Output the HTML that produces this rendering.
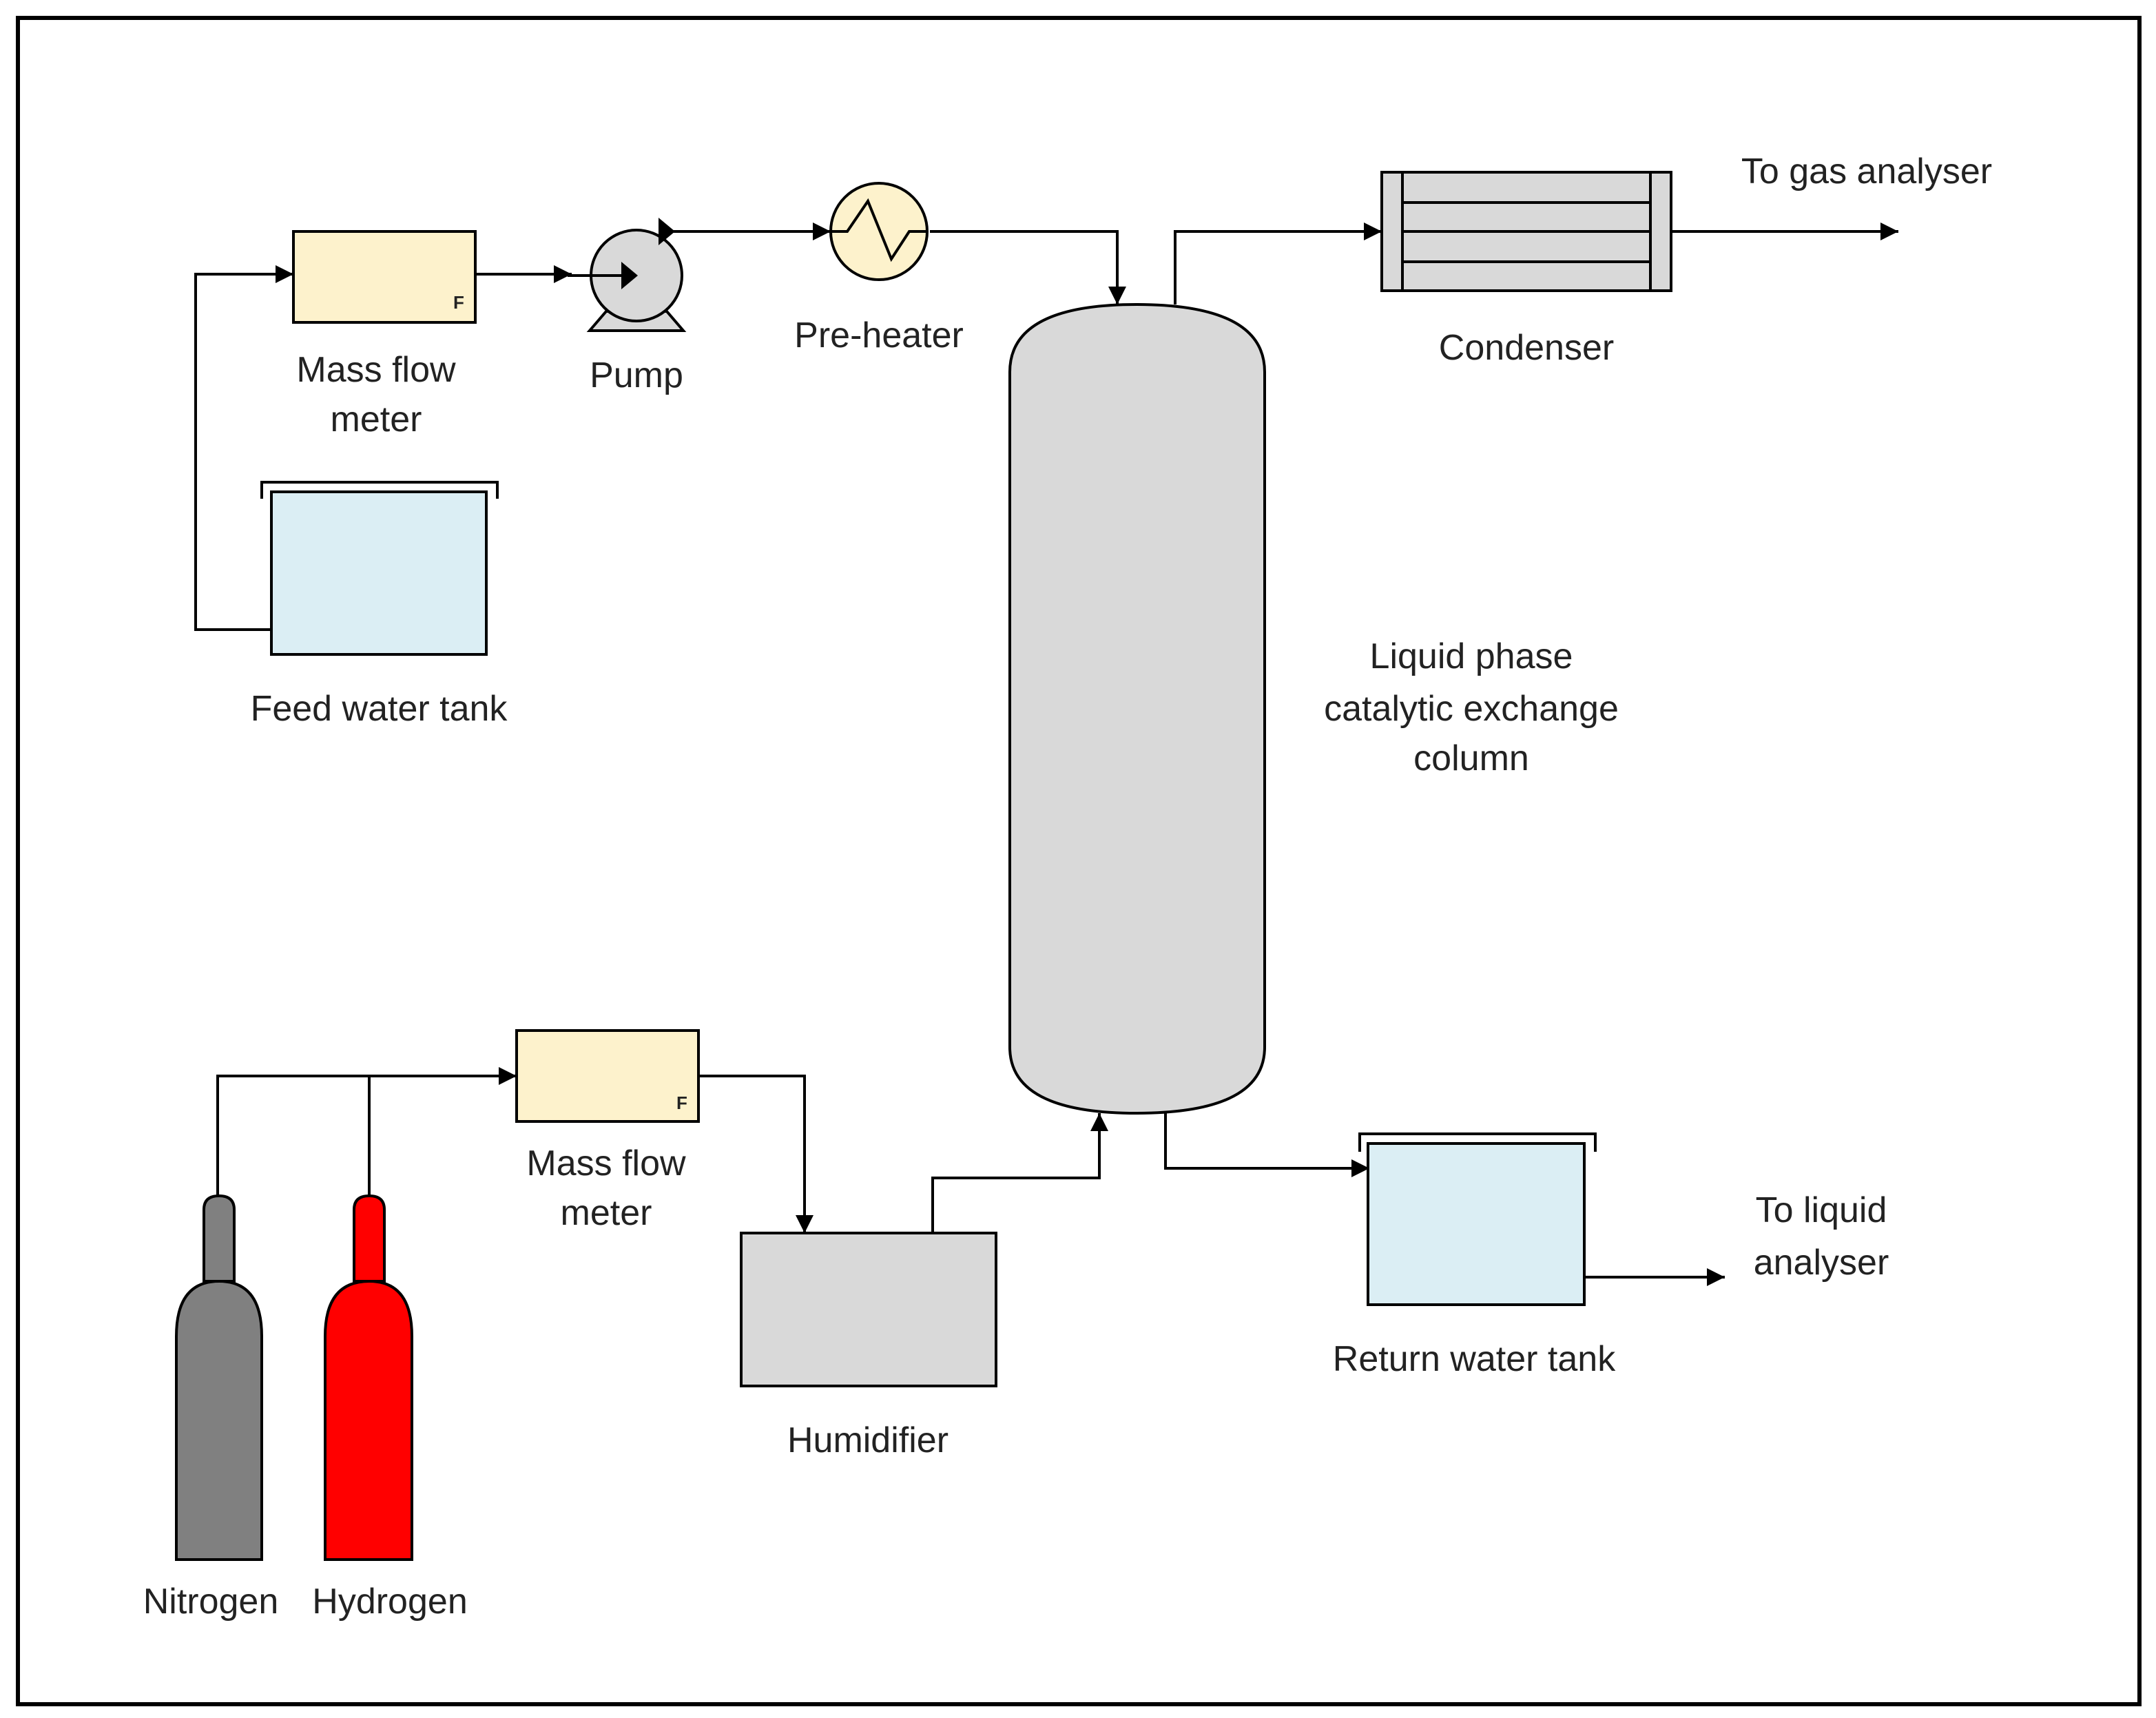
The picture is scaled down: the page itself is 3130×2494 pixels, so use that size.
<!DOCTYPE html>
<html><head><meta charset="utf-8"><style>html,body{margin:0;padding:0;background:#fff}svg{display:block}</style></head>
<body>
<svg width="3130" height="2494" viewBox="0 0 1565 1247" xmlns="http://www.w3.org/2000/svg" font-family="Liberation Sans, sans-serif" font-size="26" fill="#222">
<defs>
<marker id="b" viewBox="0 0 10 10" refX="10" refY="5" markerWidth="13" markerHeight="13" orient="auto" markerUnits="userSpaceOnUse"><path d="M0,0L10,5L0,10z" fill="#000"/></marker>
</defs>
<rect x="13" y="13" width="1540" height="1224" fill="#fff" stroke="#000" stroke-width="3"/>
<g stroke="#000" stroke-width="2" fill="none">
<polyline points="197,457 142,457 142,199 213,199" marker-end="url(#b)"/>
<line x1="345" y1="199" x2="415" y2="199" marker-end="url(#b)"/>
<polyline points="480,168 603,168" marker-end="url(#b)"/>
<polyline points="675,168 811,168 811,221" marker-end="url(#b)"/>
<polyline points="853,221 853,168 1003,168" marker-end="url(#b)"/>
<line x1="1213" y1="168" x2="1378" y2="168" marker-end="url(#b)"/>
<polyline points="158,870 158,781 375,781" marker-end="url(#b)"/>
<line x1="268" y1="870" x2="268" y2="781"/>
<polyline points="507,781 584,781 584,895" marker-end="url(#b)"/>
<polyline points="677,895 677,855 798,855 798,808" marker-end="url(#b)"/>
<polyline points="846,808 846,848 994,848" marker-end="url(#b)"/>
<line x1="1150" y1="927" x2="1252" y2="927" marker-end="url(#b)"/>
</g>
<rect x="213" y="168" width="132" height="66" fill="#fdf2cc" stroke="#000" stroke-width="2"/>
<text x="329" y="224" font-size="13" font-weight="bold">F</text>
<path d="M428,240 L440,226 L484,226 L496,240 Z" fill="#d9d9d9" stroke="#000" stroke-width="2"/>
<ellipse cx="462" cy="200" rx="33" ry="33" fill="#d9d9d9" stroke="#000" stroke-width="2"/>
<line x1="412" y1="200" x2="455" y2="200" stroke="#000" stroke-width="2"/>
<path d="M451,190 L463,200 L451,210 Z" fill="#000"/>
<path d="M478,158 L490,168 L478,178 Z" fill="#000"/>
<circle cx="638" cy="168" r="35" fill="#fdf2cc" stroke="#000" stroke-width="2"/>
<polyline points="603,168 615,168 630,146 647,188 660,168 673,168" fill="none" stroke="#000" stroke-width="2"/>
<path d="M733,270 Q733,221 825,221 Q918,221 918,270 L918,760 Q918,808 825,808 Q733,808 733,760 Z" fill="#d9d9d9" stroke="#000" stroke-width="2"/>
<rect x="1003" y="125" width="210" height="86" fill="#d9d9d9" stroke="#000" stroke-width="2"/>
<line x1="1018" y1="125" x2="1018" y2="211" stroke="#000" stroke-width="2"/>
<line x1="1198" y1="125" x2="1198" y2="211" stroke="#000" stroke-width="2"/>
<g stroke="#000" stroke-width="2"><line x1="1018" y1="147" x2="1198" y2="147"/><line x1="1018" y1="168" x2="1198" y2="168"/><line x1="1018" y1="190" x2="1198" y2="190"/></g>
<rect x="197" y="357" width="156" height="118" fill="#dbeef4" stroke="#000" stroke-width="2"/>
<polyline points="190,362 190,350 361,350 361,362" fill="none" stroke="#000" stroke-width="2"/>
<rect x="375" y="748" width="132" height="66" fill="#fdf2cc" stroke="#000" stroke-width="2"/>
<text x="491" y="805" font-size="13" font-weight="bold">F</text>
<rect x="538" y="895" width="185" height="111" fill="#d9d9d9" stroke="#000" stroke-width="2"/>
<rect x="993" y="830" width="157" height="117" fill="#dbeef4" stroke="#000" stroke-width="2"/>
<polyline points="987,836 987,823 1158,823 1158,836" fill="none" stroke="#000" stroke-width="2"/>
<path d="M148,930 L148,878 Q148,868 159,868 Q170,868 170,878 L170,930 Z" fill="#808080" stroke="#000" stroke-width="2"/>
<path d="M128,1132 L128,970 Q128,930 159,930 Q190,930 190,970 L190,1132 Z" fill="#808080" stroke="#000" stroke-width="2"/>
<path d="M257,930 L257,878 Q257,868 268,868 Q279,868 279,878 L279,930 Z" fill="#ff0000" stroke="#000" stroke-width="2"/>
<path d="M236,1132 L236,970 Q236,930 268,930 Q299,930 299,970 L299,1132 Z" fill="#ff0000" stroke="#000" stroke-width="2"/>
<g text-anchor="middle">
<text x="273" y="277">Mass flow</text><text x="273" y="313">meter</text>
<text x="462" y="281">Pump</text>
<text x="638" y="252">Pre-heater</text>
<text x="1108" y="261">Condenser</text>
<text x="1355" y="133">To gas analyser</text>
<text x="275" y="523">Feed water tank</text>
<text x="1068" y="485">Liquid phase</text><text x="1068" y="523">catalytic exchange</text><text x="1068" y="559">column</text>
<text x="440" y="853">Mass flow</text><text x="440" y="889">meter</text>
<text x="630" y="1054">Humidifier</text>
<text x="1070" y="995">Return water tank</text>
<text x="1322" y="887">To liquid</text><text x="1322" y="925">analyser</text>
<text x="153" y="1171">Nitrogen</text><text x="283" y="1171">Hydrogen</text>
</g>
</svg>
</body></html>
